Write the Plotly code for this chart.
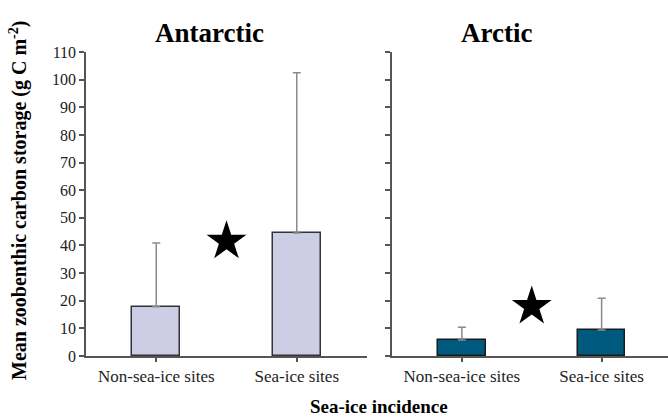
import plotly.graph_objects as go

# Sea-ice incidence categories and mean zoobenthic carbon storage (g C m-2)
categories = ["Non-sea-ice sites", "Sea-ice sites"]
antarctic_mean = [17.8, 44.5]
antarctic_err_upper = [23.1, 58.0]
arctic_mean = [5.8, 9.4]
arctic_err_upper = [4.6, 11.5]
# significance markers placed between the two bars of each region
antarctic_star_y = 41.5
arctic_star_y = 17.9
y_ticks = list(range(0, 111, 10))

SERIF = "Liberation Serif, Times New Roman, serif"
AXIS_COLOR = "#555555"

fig = go.Figure()

cat_pos = list(range(len(categories)))

fig.add_trace(go.Bar(
    x=cat_pos, y=antarctic_mean, width=0.34,
    marker=dict(color="#CDCDE5", line=dict(color="#333333", width=1.5)),
    error_y=dict(type="data", array=antarctic_err_upper, symmetric=False,
                 arrayminus=[0, 0], color="#8a8a8a", thickness=1.5, width=4),
    xaxis="x", yaxis="y", showlegend=False,
))
fig.add_trace(go.Bar(
    x=cat_pos, y=arctic_mean, width=0.34,
    marker=dict(color="#005A80", line=dict(color="#1a1a1a", width=1.5)),
    error_y=dict(type="data", array=arctic_err_upper, symmetric=False,
                 arrayminus=[0, 0], color="#8a8a8a", thickness=1.5, width=4),
    xaxis="x2", yaxis="y2", showlegend=False,
))
fig.add_trace(go.Scatter(
    x=[0.5], y=[antarctic_star_y], mode="markers",
    marker=dict(symbol="star", size=30, color="black"),
    xaxis="x", yaxis="y", showlegend=False,
))
fig.add_trace(go.Scatter(
    x=[0.5], y=[arctic_star_y], mode="markers",
    marker=dict(symbol="star", size=30, color="black"),
    xaxis="x2", yaxis="y2", showlegend=False,
))

W, H = 668, 418
ML, MT, MB = 0, 52, 62

xaxis_common = dict(
    tickvals=cat_pos, ticktext=categories,
    showline=True, linecolor=AXIS_COLOR, linewidth=1.5,
    ticks="outside", ticklen=4, tickcolor=AXIS_COLOR, tickwidth=1.5,
    showgrid=False, zeroline=False,
    tickfont=dict(family=SERIF, size=17, color="#222222"),
    fixedrange=True,
)
yaxis_common = dict(
    range=[0, 110], tickvals=y_ticks,
    showline=True, linecolor=AXIS_COLOR, linewidth=1.5,
    ticks="outside", ticklen=5, tickcolor=AXIS_COLOR, tickwidth=1.5,
    showgrid=False, zeroline=False,
    tickfont=dict(family=SERIF, size=16, color="#222222"),
)

fig.update_layout(
    width=W, height=H,
    margin=dict(l=ML, r=0, t=MT, b=MB),
    plot_bgcolor="white", paper_bgcolor="white",
    bargap=0,
    xaxis=dict(domain=[86 / W, 367 / W], range=[-0.5, 1.5], **xaxis_common),
    yaxis=dict(anchor="x", **yaxis_common),
    xaxis2=dict(domain=[392 / W, 1.0], range=[-0.5, 1.475], anchor="y2", **xaxis_common),
    yaxis2=dict(anchor="x2", showticklabels=False, **yaxis_common),
    annotations=[
        dict(text="<b>Antarctic</b>", x=209 / W, y=33, xref="paper", yref="paper",
             showarrow=False, font=dict(family=SERIF, size=27, color="black"),
             yanchor="middle", xanchor="center"),
        dict(text="<b>Arctic</b>", x=496 / W, y=33, xref="paper", yref="paper",
             showarrow=False, font=dict(family=SERIF, size=27, color="black"),
             yanchor="middle", xanchor="center"),
        dict(text="<b>Sea-ice incidence</b>", x=379 / W, y=407, xref="paper", yref="paper",
             showarrow=False, font=dict(family=SERIF, size=19, color="black"),
             yanchor="middle", xanchor="center"),
        dict(text="<b>Mean zoobenthic carbon storage (g C m<sup>-2</sup>)</b>",
             x=18 / W, y=201, xref="paper", yref="paper", textangle=-90,
             showarrow=False, font=dict(family=SERIF, size=20, color="black"),
             yanchor="middle", xanchor="center"),
    ],
)

# convert the annotation pixel rows into paper coordinates of the plot area
plot_h = H - MT - MB
for ann in fig.layout.annotations:
    ann.y = (H - MB - ann.y) / plot_h

fig.write_html("out.html")
